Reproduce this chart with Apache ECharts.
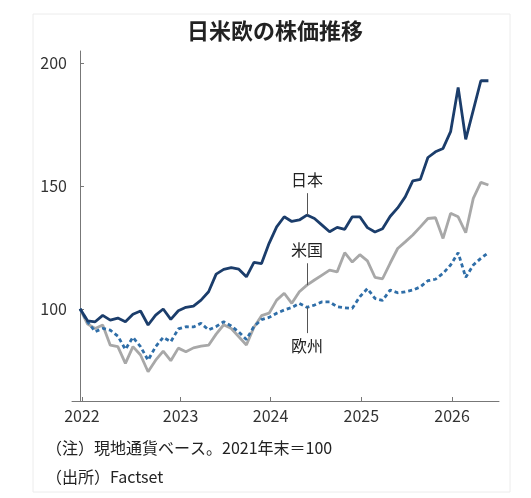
<!DOCTYPE html>
<html>
<head>
<meta charset="utf-8">
<script src="https://cdn.jsdelivr.net/npm/echarts@6/dist/echarts.min.js"></script>
<style>
  html, body { margin: 0; padding: 0; background: #fff; }
  #chart { width: 531px; height: 498px; }
</style>
</head>
<body>
<div id="chart"></div>
<script>
  // 月次、2021年末=100（index 0 = 2021年末）
  var japan = [100, 95.1, 94.7, 97.3, 95.4, 96.2, 94.7, 97.8, 99.1, 93.4, 97.4, 99.9, 95.7, 99.2,
    100.6, 101.1, 103.5, 106.9, 114.1, 116, 116.7, 116.1, 113, 118.9, 118.4, 126.6, 133.3, 137.4,
    135.5, 136.1, 138.1, 136.7, 134, 131.3, 133.1, 132.3, 137.4, 137.4, 133, 131.2, 132.5, 137.5,
    141, 145.5, 152, 152.6, 161.5, 163.8, 165.2, 172, 190, 168.9, 180.8, 192.7, 192.7];
  var usa = [100, 93.8, 92, 93.4, 85.2, 84.6, 77.8, 84.6, 81.2, 74.4, 79.1, 82.8, 78.9, 84,
    82.5, 84.1, 84.8, 85.2, 89.7, 93.5, 92, 88.6, 85.3, 92.5, 97.2, 98.2, 103.5, 106.3,
    102.2, 106.9, 109.6, 111.7, 113.7, 115.7, 115, 122.8, 119, 122, 119.5, 112.8, 112.2, 118.5,
    124.5, 127.2, 130, 133.3, 136.7, 137, 128.6, 138.8, 137.4, 130.9, 144.9, 151.4, 150.3];
  var europe = [100, 94.7, 90.7, 92, 91.3, 88.9, 83.5, 88.4, 84.6, 79.1, 84.6, 88.4, 86.6, 91.8,
    92.7, 92.6, 94.1, 91.4, 92.8, 94.7, 93, 90.5, 87.5, 92.8, 95.6, 96.5, 98.2, 99.5,
    100.5, 102.2, 100.6, 101.5, 102.8, 102.8, 100.8, 100.4, 100.2, 104.9, 108.2, 104.2, 103.4, 107.6,
    106.5, 106.9, 107.6, 108.9, 111.4, 112, 114.4, 117.8, 122.8, 112.8, 117.8, 120.5, 122.8];

  var yearLabels = ["2022", "2023", "2024", "2025", "2026"];
  var yearPos = [0.25, 13.3, 25.2, 37.2, 49.2];
  var yTicks = [100, 150, 200];

  // ラベル（引き出し線の位置と長さ）
  var labelIndex = 30;
  var labelTexts = ["日本", "米国", "欧州"];
  var labelEnds = [147, 118.5, 90.1];

  function toPairs(arr) {
    var out = [];
    for (var i = 0; i < arr.length; i++) {
      out.push([i, arr[i]]);
    }
    return out;
  }

  function leader(arr, k) {
    return {
      silent: true,
      symbol: "none",
      animation: false,
      lineStyle: { color: "#555", width: 1, type: "solid" },
      label: {
        show: true,
        position: "end",
        distance: 5,
        formatter: labelTexts[k],
        fontSize: 16,
        color: "#222",
        fontFamily: "Noto Sans CJK JP"
      },
      data: [[{ coord: [labelIndex, arr[labelIndex]] }, { coord: [labelIndex, labelEnds[k]] }]]
    };
  }

  var font = "Noto Sans CJK JP";
  var myChart = echarts.init(document.getElementById("chart"));

  myChart.setOption({
    animation: false,
    backgroundColor: "#fff",
    textStyle: { fontFamily: font },
    title: {
      text: "日米欧の株価推移",
      left: 182,
      top: 15,
      textStyle: { fontSize: 22, fontWeight: "bold", color: "#222", fontFamily: font }
    },
    grid: { left: 72, right: 32, top: 51, bottom: 97 },
    xAxis: {
      type: "value",
      min: -1.06,
      max: 55.4,
      splitLine: { show: false },
      axisLine: { lineStyle: { color: "#777", width: 1 } },
      axisTick: {
        inside: true,
        length: 4,
        customValues: yearPos,
        lineStyle: { color: "#777" }
      },
      axisLabel: {
        customValues: yearPos,
        margin: 7,
        fontSize: 16,
        color: "#333",
        formatter: function(v) {
          var k = yearPos.indexOf(v);
          return k >= 0 ? yearLabels[k] : "";
        }
      }
    },
    yAxis: {
      type: "value",
      min: 62.5,
      max: 204.8,
      splitLine: { show: false },
      axisLine: { show: true, lineStyle: { color: "#777", width: 1 } },
      axisTick: {
        show: true,
        inside: true,
        length: 4,
        customValues: yTicks,
        lineStyle: { color: "#777" }
      },
      axisLabel: {
        customValues: yTicks,
        margin: 5,
        fontSize: 16,
        color: "#333"
      }
    },
    series: [
      {
        name: "米国",
        type: "line",
        data: toPairs(usa),
        symbol: "none",
        lineStyle: { color: "#a8a8a8", width: 2.8 },
        markLine: leader(usa, 1)
      },
      {
        name: "欧州",
        type: "line",
        data: toPairs(europe),
        symbol: "none",
        lineStyle: { color: "#2f6ea8", width: 2.8, type: [4, 3] },
        markLine: leader(europe, 2)
      },
      {
        name: "日本",
        type: "line",
        data: toPairs(japan),
        symbol: "none",
        lineStyle: { color: "#1b3d6b", width: 2.8 },
        markLine: leader(japan, 0)
      }
    ],
    graphic: [
      {
        type: "rect",
        shape: { x: 33, y: 14, width: 477, height: 478 },
        style: { fill: "none", stroke: "#ececec", lineWidth: 1 },
        silent: true
      },
      {
        type: "text",
        left: 46,
        top: 440,
        style: { text: "（注）現地通貨ベース。2021年末＝100", fontSize: 16, fill: "#222", fontFamily: font }
      },
      {
        type: "text",
        left: 46,
        top: 469,
        style: { text: "（出所）Factset", fontSize: 16, fill: "#222", fontFamily: font }
      }
    ]
  });
</script>
</body>
</html>
